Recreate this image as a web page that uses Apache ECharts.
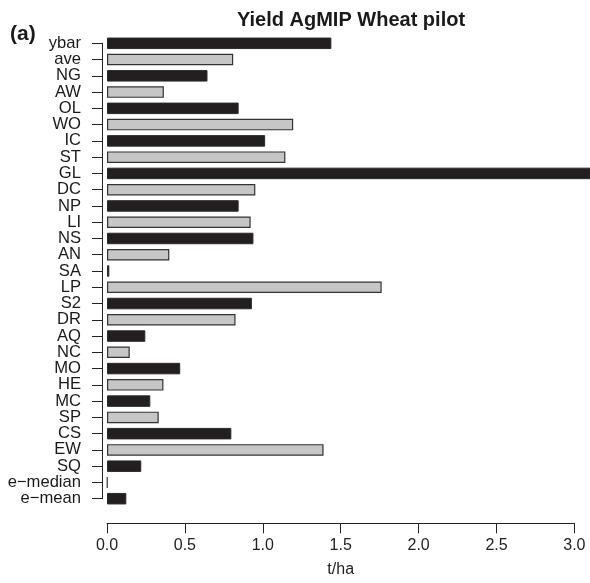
<!DOCTYPE html>
<html>
<head>
<meta charset="utf-8">
<script src="https://cdn.jsdelivr.net/npm/echarts@6/dist/echarts.min.js"></script>
<style>
  html, body { margin: 0; padding: 0; background: #fff; }
  #chart { width: 590px; height: 583px; }
</style>
</head>
<body>
<div id="chart"></div>
<script>
// Model codes, top to bottom
const models = ['ybar', 'ave', 'NG', 'AW', 'OL', 'WO', 'IC', 'ST', 'GL', 'DC', 'NP', 'LI', 'NS', 'AN', 'SA',
  'LP', 'S2', 'DR', 'AQ', 'NC', 'MO', 'HE', 'MC', 'SP', 'CS', 'EW', 'SQ', 'e\u2212median', 'e\u2212mean'];

// Yield values (t/ha)
const yieldValues = [1.44, 0.81, 0.645, 0.365, 0.845, 1.195, 1.015, 1.145, 3.25, 0.952, 0.845, 0.922, 0.94, 0.40, 0.015,
  1.763, 0.93, 0.825, 0.246, 0.146, 0.47, 0.362, 0.278, 0.332, 0.798, 1.39, 0.22, 0.003, 0.124];

// Axis ticks
const xTicks = [0, 0.5, 1.0, 1.5, 2.0, 2.5, 3.0];

const DARK = '#231f20';
const LIGHT = '#c6c6c6';
const FONT = 'Liberation Sans, Arial, Helvetica, sans-serif';

const chart = echarts.init(document.getElementById('chart'), null, { renderer: 'canvas' });

const pxPerUnit = 155.8;
const plotLeft = 107;
const plotWidth = 590 - plotLeft;
const firstCenter = 43.3;
const lastCenter = 498.7;
const step = (lastCenter - firstCenter) / (models.length - 1);

chart.setOption({
  animation: false,
  backgroundColor: '#ffffff',
  title: [
    {
      text: 'Yield AgMIP Wheat pilot',
      left: 346, top: 5, textAlign: 'center',
      textStyle: { fontFamily: FONT, fontWeight: 'bold', fontSize: 20, color: '#1a1a1a' }
    },
    {
      text: '(a)',
      left: 5, top: 19,
      textStyle: { fontFamily: FONT, fontWeight: 'bold', fontSize: 21, color: '#1a1a1a' }
    }
  ],
  grid: [
    // bars
    { left: plotLeft, width: plotWidth, top: firstCenter - step / 2, height: step * models.length },
    // x axis (0 to 3 only)
    { left: plotLeft, width: pxPerUnit * xTicks[xTicks.length - 1], top: 500, height: 23.3 },
    // y axis line through category centres
    { left: 102, width: 5, top: firstCenter, height: lastCenter - firstCenter }
  ],
  xAxis: [
    { gridIndex: 0, type: 'value', min: 0, max: plotWidth / pxPerUnit, show: false },
    {
      gridIndex: 1, type: 'value', min: xTicks[0], max: xTicks[xTicks.length - 1], interval: 0.5,
      axisLine: { show: true, lineStyle: { color: '#222', width: 1 } },
      axisTick: { show: true, length: 10, lineStyle: { color: '#222', width: 1 } },
      axisLabel: {
        margin: 14, fontFamily: FONT, fontSize: 16, color: '#222',
        formatter: v => v.toFixed(1)
      },
      splitLine: { show: false },
      name: 't/ha', nameLocation: 'middle', nameGap: 38,
      nameTextStyle: { fontFamily: FONT, fontSize: 16, color: '#222' }
    },
    { gridIndex: 2, type: 'value', show: false }
  ],
  yAxis: [
    { gridIndex: 0, type: 'category', data: models, inverse: true, show: false },
    { gridIndex: 1, type: 'value', show: false },
    {
      gridIndex: 2, type: 'category', data: models, inverse: true, boundaryGap: false,
      axisLine: { show: true, lineStyle: { color: '#222', width: 1 } },
      axisTick: { show: true, length: 10, interval: 0, lineStyle: { color: '#222', width: 1 } },
      axisLabel: { interval: 0, margin: 21, fontFamily: FONT, fontSize: 16.6, color: '#1a1a1a' },
      splitLine: { show: false }
    }
  ],
  series: [
    {
      type: 'bar',
      xAxisIndex: 0, yAxisIndex: 0,
      clip: true,
      barWidth: 11.5,
      data: yieldValues.map((v, i) => ({
        value: v,
        itemStyle: (i % 2 === 0)
          ? { color: DARK, borderColor: '#2a2a2a', borderWidth: 1 }
          : { color: LIGHT, borderColor: '#333', borderWidth: 1.2 }
      })),
      silent: true
    }
  ]
});
</script>
</body>
</html>
